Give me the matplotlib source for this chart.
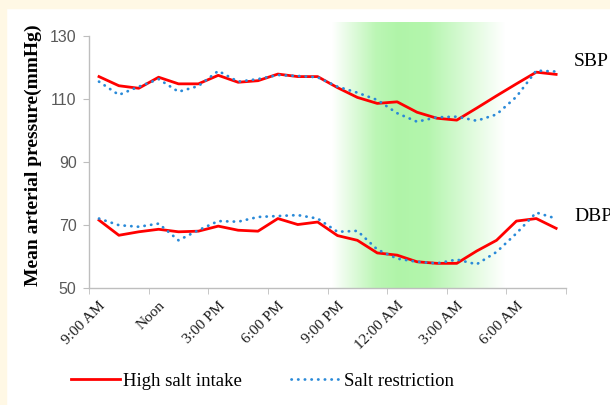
import numpy as np
import matplotlib
matplotlib.use("Agg")
import matplotlib.pyplot as plt
from matplotlib.lines import Line2D

# hourly means, 9:00 AM through 8:00 AM next day
sbp_high = [117.0, 114.1, 113.3, 116.8, 114.7, 114.7, 117.4, 115.2, 115.7, 117.8, 117.0, 117.0,
            113.5, 110.4, 108.5, 109.0, 105.7, 103.8, 103.2, 107.0, 110.9, 114.7, 118.4, 117.7]
sbp_low = [115.4, 111.2, 113.8, 116.2, 112.2, 114.0, 118.8, 115.4, 116.2, 117.5, 117.2, 116.8,
           113.8, 111.9, 109.6, 105.4, 102.7, 104.1, 104.3, 103.0, 105.0, 110.6, 118.9, 118.6]
dbp_high = [71.5, 66.7, 67.8, 68.6, 67.8, 68.0, 69.6, 68.3, 68.0, 72.0, 70.1, 70.9,
            66.6, 65.1, 61.1, 60.4, 58.3, 57.8, 57.8, 61.7, 65.1, 71.2, 72.0, 68.9]
dbp_low = [72.0, 69.9, 69.4, 70.4, 65.1, 68.3, 71.2, 71.0, 72.5, 72.8, 73.1, 72.0,
           67.8, 68.1, 62.2, 59.3, 58.3, 57.8, 59.0, 57.5, 61.4, 67.3, 73.9, 72.0]
tick_labels = ['9:00 AM', 'Noon', '3:00 PM', '6:00 PM', '9:00 PM', '12:00 AM', '3:00 AM', '6:00 AM']
y_ticks = [50, 70, 90, 110, 130]

n = len(sbp_high)
x = np.arange(n) + 0.5

serif = 'Liberation Serif'
red = '#FF0000'
blue = '#2A8AD8'

fig = plt.figure(figsize=(6.1, 4.05), dpi=100)
fig.patch.set_facecolor('white')
# cream page border
fig.add_artist(plt.Rectangle((0, 1 - 8 / 405), 1, 8 / 405, transform=fig.transFigure,
                             color='#FFF8E5', zorder=0))
fig.add_artist(plt.Rectangle((0, 0), 6 / 610, 1, transform=fig.transFigure,
                             color='#FFF8E5', zorder=0))

ax = fig.add_axes([0.146, 0.289, 0.782, 0.623 * 1.054])
ax.set_xlim(0, n)
ax.set_ylim(50, 134.3)

# night-time green band
gx = np.linspace(12.2, 20.9, 300)
strength = np.interp(gx, [12.2, 14.4, 15.5, 17.0, 19.0, 20.9], [0, 0.85, 1.0, 0.95, 0.45, 0])
peak = np.array([0.69, 0.96, 0.66])
rgb = 1 - strength[None, :, None] * (1 - peak[None, None, :])
ax.imshow(rgb, extent=[12.2, 20.9, 50, 134.3], aspect='auto', zorder=0, interpolation='bilinear')

ax.plot(x, sbp_high, color=red, lw=2.0, zorder=3)
ax.plot(x, dbp_high, color=red, lw=2.0, zorder=3)
dots = dict(color=blue, lw=2.0, linestyle=(0, (0.1, 2.3)), dash_capstyle='round', zorder=4)
ax.plot(x, sbp_low, **dots)
ax.plot(x, dbp_low, **dots)

for s in ['top', 'right']:
    ax.spines[s].set_visible(False)
for s in ['left', 'bottom']:
    ax.spines[s].set_color('#BEBEBE')
    ax.spines[s].set_linewidth(1.0)
ax.spines['left'].set_bounds(50, 130)

ax.set_yticks(y_ticks)
ax.set_yticklabels([str(v) for v in y_ticks], fontsize=11.5, color='#595959',
                   family='Liberation Sans')
ax.tick_params(axis='y', length=4, color='#BEBEBE', pad=5)

ax.set_xticks(np.arange(0, n + 1, 3), minor=True)
ax.set_xticks(x[::3])
ax.set_xticklabels(tick_labels, rotation=45, ha='right', va='top', rotation_mode='anchor',
                   fontsize=11, family=serif, color='#1A1A1A')
ax.tick_params(axis='x', which='major', length=0, pad=8)
ax.tick_params(axis='x', which='minor', length=4, color='#BEBEBE')

ax.set_ylabel('Mean arterial pressure(mmHg)', family=serif, fontweight='bold', fontsize=14,
              labelpad=6)

fig.text(574 / 610, 1 - 62 / 405, 'SBP', family=serif, fontsize=14, va='center', ha='left')
fig.text(574 / 610, 1 - 217 / 405, 'DBP', family=serif, fontsize=14, va='center', ha='left')

handles = [Line2D([], [], color=red, lw=2.0),
           Line2D([], [], **dots)]
fig.legend(handles, ['High salt intake', 'Salt restriction'], loc='center',
           bbox_to_anchor=(0.43, 1 - 381 / 405), ncol=2, frameon=False,
           prop={'family': serif, 'size': 13.5}, handlelength=2.6, columnspacing=2.6,
           handletextpad=0.2)

fig.savefig('out.png', dpi=100)
